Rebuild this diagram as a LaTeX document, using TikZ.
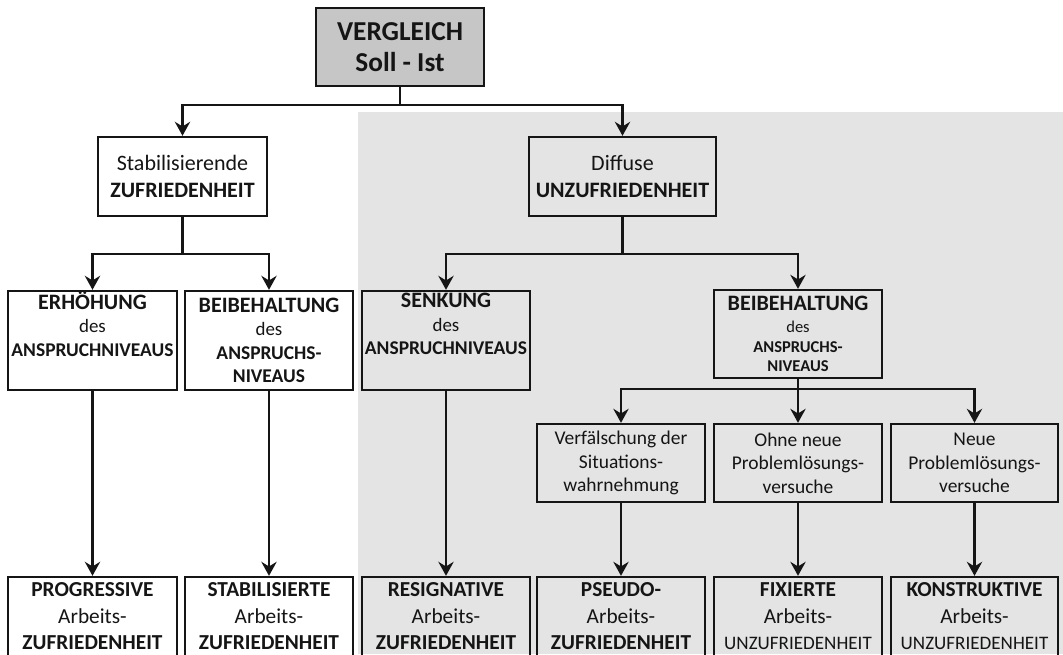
\documentclass[tikz,border=0pt]{standalone}
\usepackage{fontspec}
\setmainfont{Carlito}
\usetikzlibrary{arrows.meta}
\definecolor{bggray}{HTML}{E4E4E4}
\definecolor{topgray}{HTML}{C6C6C6}
\definecolor{ink}{HTML}{151515}
\newcommand\fs[2]{\fontsize{#1}{#2}\selectfont}
\tikzset{
  box/.style={draw=ink, line width=1.8pt, align=center, inner sep=0pt, text=ink},
  link/.style={draw=ink, line width=1.6pt},
  arr/.style={link, -{Stealth[length=10.5pt,width=11.5pt,inset=3.5pt]}},
}
\begin{document}
\begin{tikzpicture}[x=0.75pt,y=-0.75pt]
\useasboundingbox (0,0) rectangle (1063,654);
\fill[white] (0,0) rectangle (1063,654);
\fill[bggray] (358,112) rectangle (1063,654);

% top
\node[box, fill=topgray, minimum width=168*0.75pt, minimum height=78*0.75pt,
  font=\fs{20.5}{23.25}\bfseries] (top) at (400,47) {VERGLEICH\\Soll - Ist};

% level 1
\node[box, fill=white, minimum width=169*0.75pt, minimum height=79*0.75pt,
  font=\fs{16.5}{19.8}] (stab) at (182.5,176.5) {Stabilisierende\\\textbf{ZUFRIEDENHEIT}};
\node[box, minimum width=187*0.75pt, minimum height=79*0.75pt,
  font=\fs{16.5}{19.8}] (diff) at (622.5,176.5) {Diffuse\\\textbf{UNZUFRIEDENHEIT}};

% level 2
\node[box, fill=white, minimum width=169*0.75pt, minimum height=99*0.75pt,
  font=\fs{16.5}{17.6}] (erh) at (92.5,340.5)
  {\textbf{ERHÖHUNG}\\{\fs{14.2}{16}des}\\{\fs{14.6}{16}\bfseries ANSPRUCHNIVEAUS}\\[2pt]\strut};
\node[box, fill=white, minimum width=168*0.75pt, minimum height=99*0.75pt,
  font=\fs{16.5}{17.6}] (beiL) at (269,340.5)
  {\textbf{BEIBEHALTUNG}\\{\fs{14.2}{16}des}\\{\fs{14.6}{16}\bfseries ANSPRUCHS-}\\{\fs{14.6}{16}\bfseries NIVEAUS}};
\node[box, minimum width=168*0.75pt, minimum height=99*0.75pt,
  font=\fs{16.5}{17.6}] (senk) at (446,340.5)
  {\textbf{SENKUNG}\\{\fs{14.2}{16}des}\\{\fs{14.6}{16}\bfseries ANSPRUCHNIVEAUS}\\[2pt]\strut};
\node[box, minimum width=168*0.75pt, minimum height=88*0.75pt,
  font=\fs{12.4}{14.6}] (beiR) at (798,334)
  {{\fs{16.5}{18}\bfseries BEIBEHALTUNG}\\[2pt]des\\\textbf{ANSPRUCHS-}\\\textbf{NIVEAUS}};

% level 3
\node[box, minimum width=168*0.75pt, minimum height=78*0.75pt,
  font=\fs{14.6}{17.5}] (verf) at (621,463) {Verfälschung der\\Situations-\\wahrnehmung};
\node[box, minimum width=168*0.75pt, minimum height=78*0.75pt,
  font=\fs{14.6}{17.5}] (ohne) at (798,463) {Ohne neue\\Problemlösungs-\\versuche};
\node[box, minimum width=167*0.75pt, minimum height=78*0.75pt,
  font=\fs{14.6}{17.5}] (neue) at (974.5,463) {Neue\\Problemlösungs-\\versuche};

% bottom row
\tikzset{bot/.style={box, minimum height=79*0.75pt, font=\fs{16}{19.9}}}
\node[bot, fill=white, minimum width=169*0.75pt] (b1) at (92.5,616.5)
  {\textbf{PROGRESSIVE}\\Arbeits-\\\textbf{ZUFRIEDENHEIT}};
\node[bot, fill=white, minimum width=168*0.75pt] (b2) at (269,616.5)
  {\textbf{STABILISIERTE}\\Arbeits-\\\textbf{ZUFRIEDENHEIT}};
\node[bot, minimum width=168*0.75pt] (b3) at (446,616.5)
  {\textbf{RESIGNATIVE}\\Arbeits-\\\textbf{ZUFRIEDENHEIT}};
\node[bot, minimum width=168*0.75pt] (b4) at (621,616.5)
  {\textbf{PSEUDO-}\\Arbeits-\\\textbf{ZUFRIEDENHEIT}};
\node[bot, minimum width=168*0.75pt] (b5) at (798,616.5)
  {\textbf{FIXIERTE}\\Arbeits-\\{\fs{14.3}{16}UNZUFRIEDENHEIT}};
\node[bot, minimum width=167*0.75pt] (b6) at (974.5,616.5)
  {\textbf{KONSTRUKTIVE}\\Arbeits-\\{\fs{14.3}{16}UNZUFRIEDENHEIT}};

% junctions
\coordinate (j1) at (400,105);
\coordinate (j2) at (182.5,254);
\coordinate (j3) at (622.5,254);
\coordinate (j4) at (798,389);

% connectors
\draw[link] (top.south) -- (j1);
\draw[arr] (j1) -| (stab.north);
\draw[arr] (j1) -| (diff.north);

\draw[link] (stab.south) -- (j2);
\draw[arr] (j2) -| (erh.north);
\draw[arr] (j2) -| (beiL.north);

\draw[link] (diff.south) -- (j3);
\draw[arr] (j3) -| (senk.north);
\draw[arr] (j3) -| (beiR.north);

\draw[link] (beiR.south) -- (j4);
\draw[arr] (j4) -| (verf.north);
\draw[arr] (j4) -- (ohne.north);
\draw[arr] (j4) -| (neue.north);

\draw[arr] (erh.south) -- (b1.north);
\draw[arr] (beiL.south) -- (b2.north);
\draw[arr] (senk.south) -- (b3.north);
\draw[arr] (verf.south) -- (b4.north);
\draw[arr] (ohne.south) -- (b5.north);
\draw[arr] (neue.south) -- (b6.north);
\end{tikzpicture}
\end{document}
